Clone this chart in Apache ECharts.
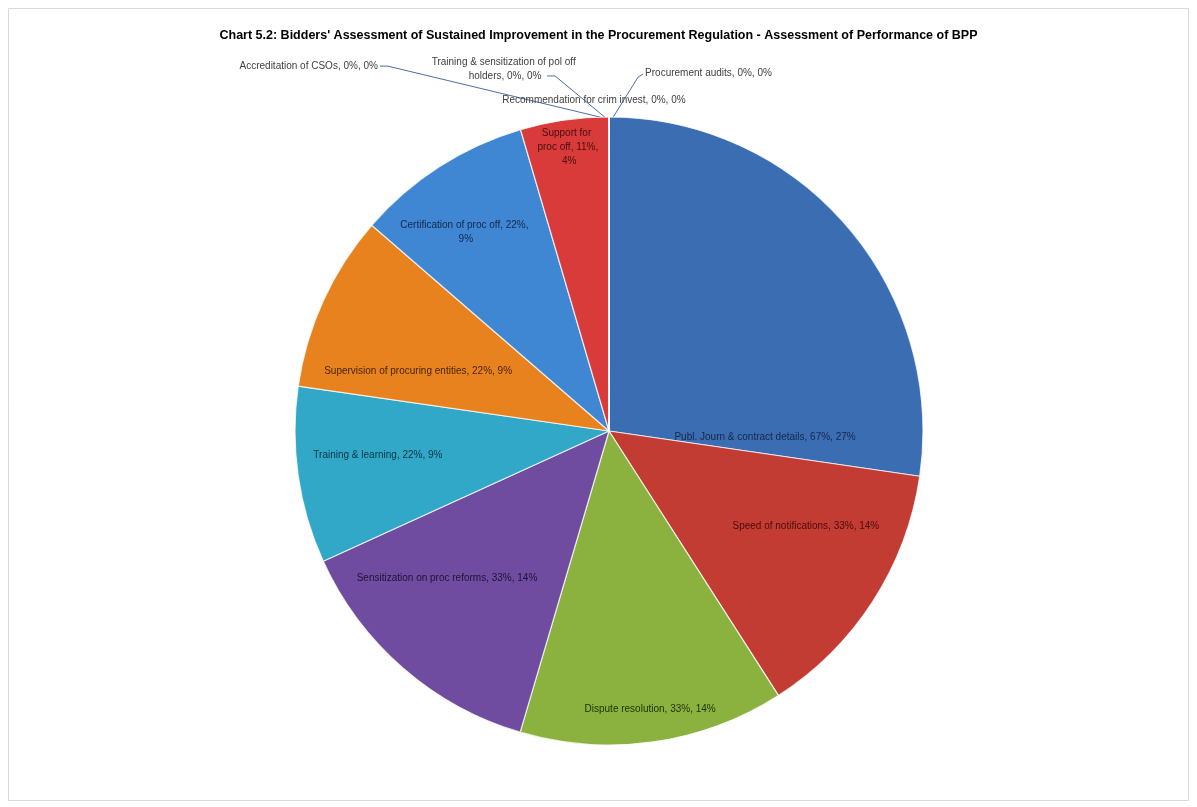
<!DOCTYPE html>
<html>
<head>
<meta charset="utf-8">
<script src="https://cdn.jsdelivr.net/npm/echarts@6/dist/echarts.min.js"></script>
<style>
html,body{margin:0;padding:0;background:#fff;}
#chart{width:1197px;height:807px;}
</style>
</head>
<body>
<div id="chart"></div>
<script>
// ---- data ----
const titleText = "Chart 5.2: Bidders' Assessment of Sustained Improvement in the Procurement Regulation - Assessment of Performance of BPP";
const categories = [
  "Publ. Journ & contract details",
  "Speed of notifications",
  "Dispute resolution",
  "Sensitization on proc reforms",
  "Training & learning",
  "Supervision of procuring entities",
  "Certification of proc off",
  "Support for proc off",
  "Recommendation for crim invest",
  "Procurement audits",
  "Training & sensitization of pol off holders",
  "Accreditation of CSOs"
];
// share of bidders rating each area (%)
const respondentPct = [66.7, 33.3, 33.3, 33.3, 22.2, 22.2, 22.2, 11.1, 0, 0, 0, 0];

// ---- style / layout config ----
const colors = ["#3b6db2", "#c23c34", "#8bb23e", "#6f4c9f", "#32a8c8", "#e8821f", "#3f86d3", "#d93b3b", "#4f81bd", "#c0504d", "#9bbb59", "#8064a2"];
const labelColors = ["#16284a", "#4a0d0d", "#22330a", "#1f1236", "#0c3646", "#4a2406", "#16284a", "#4a0d0d", "#404040", "#404040", "#404040", "#404040"];
const CX = 609, CY = 431, R = 314;
// label anchor offsets relative to pie centre, in radius units
const labelOffsets = [[0.497,0.019],[0.627,0.303],[0.131,0.885],[-0.516,0.468],[-0.736,0.076],[-0.608,-0.191],[-0.456,-0.634],[-0.131,-0.904],
  [-0.048,-1.054],[0.115,-1.140],[-0.331,-1.153],[-0.736,-1.162]];
const labelAlign = ["center","center","center","center","center","center","center","center","center","left","center","right"];
const labelWidths = [null,null,null,null,null,null,135,62,null,null,150,null];

const chart = echarts.init(document.getElementById('chart'), null, {renderer:'canvas'});

const data = categories.map((name, i) => {
  const item = {
    name: name,
    value: respondentPct[i],
    itemStyle: {color: colors[i]},
    label: {color: labelColors[i]}
  };
  if (labelWidths[i]) { item.label.width = labelWidths[i]; item.label.overflow = 'break'; }
  if (i >= 8) {
    item.label.position = 'outside';
    item.labelLine = {show: i !== 8, lineStyle:{color:'#4a6fa5', width:1}};
  }
  return item;
});

chart.setOption({
  animation: false,
  backgroundColor: '#ffffff',
  title: {
    text: titleText,
    left: 'center',
    top: 24,
    textStyle: {fontFamily: 'Liberation Sans', fontWeight: 'bold', fontSize: 12.5, color: '#000'}
  },
  graphic: [{
    type: 'rect', shape: {x: 8.5, y: 8.5, width: 1180, height: 792},
    style: {fill: 'none', stroke: '#d9d9d9', lineWidth: 1}, silent: true, z: -1
  }],
  series: [{
    type: 'pie',
    center: [CX, CY],
    radius: R,
    startAngle: 90,
    clockwise: true,
    avoidLabelOverlap: false,
    percentPrecision: 0,
    minShowLabelAngle: 0,
    stillShowZeroSum: true,
    itemStyle: {borderColor: 'rgba(255,255,255,0.75)', borderWidth: 1.2},
    label: {
      show: true,
      position: 'inside',
      fontFamily: 'Liberation Sans',
      fontSize: 10,
      lineHeight: 14,
      formatter: p => p.name + ', ' + Math.round(p.value) + '%, ' + p.percent + '%'
    },
    labelLine: {show: false},
    labelLayout: function (params) {
      const i = params.dataIndex;
      const o = labelOffsets[i];
      const x = CX + o[0] * R, y = CY + o[1] * R;
      const res = {x: x, y: y, align: labelAlign[i], verticalAlign: 'middle'};
      if (i === 9) {
        res.labelLinePoints = [[x - 2, y + 1], [x - 7, y + 4], [CX + 3, CY - R + 2]];
      } else if (i === 10) {
        const ex = x + 40;
        res.labelLinePoints = [[ex + 2, y + 7], [ex + 10, y + 7], [CX - 2, CY - R + 2]];
      } else if (i === 11) {
        res.labelLinePoints = [[x + 2, y], [x + 10, y], [CX - 1, CY - R + 2]];
      }
      return res;
    },
    data: data
  }]
});
</script>
</body>
</html>
